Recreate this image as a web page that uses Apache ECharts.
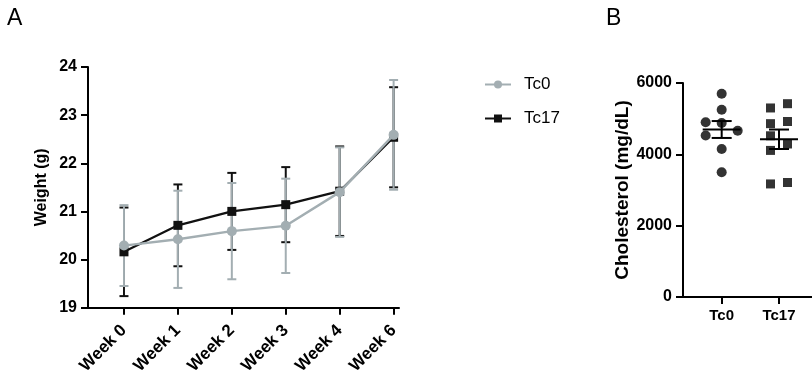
<!DOCTYPE html>
<html>
<head>
<meta charset="utf-8">
<script src="https://cdn.jsdelivr.net/npm/echarts@6/dist/echarts.min.js"></script>
<style>
  html, body { margin: 0; padding: 0; background: #fff; }
  #chart { width: 812px; height: 377px; }
</style>
</head>
<body>
<div id="chart"></div>
<script>
// panel A - body weight per week
var weeks = ["Week 0", "Week 1", "Week 2", "Week 3", "Week 4", "Week 6"];
var tc0Mean = [20.29, 20.42, 20.59, 20.70, 21.40, 22.59];
var tc0Sd = [0.84, 1.01, 1.00, 0.98, 0.93, 1.14];
var tc17Mean = [20.16, 20.71, 21.00, 21.14, 21.42, 22.54];
var tc17Sd = [0.92, 0.85, 0.80, 0.78, 0.93, 1.04];

// panel B - cholesterol, one value per animal
var groups = ["Tc0", "Tc17"];
var cholTc0 = [5700, 5250, 4900, 4880, 4530, 4660, 4150, 3500];
var cholTc17 = [5420, 5300, 4920, 4860, 4520, 4290, 4110, 3210, 3170];
// column slot of each dot (-1 left, 0 centre, 1 right)
var jitTc0 = [0, 0, -1, 0, -1, 1, 0, 0];
var jitTc17 = [1, -1, 1, -1, -1, 1, -1, 1, -1];

var grey = "#a3aeb2";
var font = "Liberation Sans, Arial, sans-serif";

function meanOf(a) {
    var s = 0;
    a.forEach(function (v) { s += v; });
    return s / a.length;
}
function semOf(a) {
    var m = meanOf(a), s = 0;
    a.forEach(function (v) { s += (v - m) * (v - m); });
    return Math.sqrt(s / (a.length - 1)) / Math.sqrt(a.length);
}

function errorBar(color, capHalf) {
    return function (params, api) {
        var top = api.coord([api.value(0), api.value(2)]);
        var bot = api.coord([api.value(0), api.value(1)]);
        var st = {stroke: color, lineWidth: 2};
        return {
            type: "group",
            children: [
                {type: "line", shape: {x1: top[0], y1: top[1], x2: bot[0], y2: bot[1]}, style: st},
                {type: "line", shape: {x1: top[0] - capHalf, y1: top[1], x2: top[0] + capHalf, y2: top[1]}, style: st},
                {type: "line", shape: {x1: bot[0] - capHalf, y1: bot[1], x2: bot[0] + capHalf, y2: bot[1]}, style: st}
            ]
        };
    };
}

function meanSem(params, api) {
    var x = api.value(0), m = api.value(1), e = api.value(2);
    var c = api.coord([x, m]);
    var t = api.coord([x, m + e]);
    var b = api.coord([x, m - e]);
    var st = {stroke: "#000", lineWidth: 2};
    return {
        type: "group",
        children: [
            {type: "line", shape: {x1: c[0] - 19, y1: c[1], x2: c[0] + 19, y2: c[1]}, style: st},
            {type: "line", shape: {x1: t[0], y1: t[1], x2: b[0], y2: b[1]}, style: st},
            {type: "line", shape: {x1: t[0] - 10, y1: t[1], x2: t[0] + 10, y2: t[1]}, style: st},
            {type: "line", shape: {x1: b[0] - 10, y1: b[1], x2: b[0] + 10, y2: b[1]}, style: st}
        ]
    };
}

var weekIdx = weeks.map(function (w, i) { return i; });
var groupIdx = groups.map(function (g, i) { return i; });

function axisCommon() {
    return {
        axisLine: {onZero: false, lineStyle: {color: "#000", width: 2}},
        axisTick: {length: 7, lineStyle: {color: "#000", width: 2}},
        splitLine: {show: false},
        axisLabel: {color: "#000", fontWeight: "bold", fontFamily: font, fontSize: 16, margin: 11}
    };
}

var chart = echarts.init(document.getElementById("chart"));

var xA = axisCommon();
xA.gridIndex = 0;
xA.type = "value";
xA.min = -0.667;
xA.max = 5.1;
xA.axisTick.customValues = weekIdx;
xA.axisLabel.customValues = weekIdx;
xA.axisLabel.rotate = 45;
xA.axisLabel.fontSize = 17;
xA.axisLabel.margin = 20;
xA.axisLabel.formatter = function (v) { return weeks[v]; };

var yA = axisCommon();
yA.gridIndex = 0;
yA.type = "value";
yA.min = 19;
yA.max = 24;
yA.interval = 1;
yA.name = "Weight (g)";
yA.nameLocation = "middle";
yA.nameGap = 38;
yA.nameTextStyle = {color: "#000", fontWeight: "bold", fontFamily: font, fontSize: 16};

var xB = axisCommon();
xB.gridIndex = 1;
xB.type = "value";
xB.min = -0.675;
xB.max = 1.576;
xB.axisTick.customValues = groupIdx;
xB.axisLabel.customValues = groupIdx;
xB.axisLabel.fontSize = 15;
xB.axisLabel.margin = 11;
xB.axisLabel.formatter = function (v) { return groups[v]; };

var yB = axisCommon();
yB.gridIndex = 1;
yB.type = "value";
yB.min = 0;
yB.max = 6000;
yB.interval = 2000;
yB.axisLabel.formatter = function (v) { return String(v); };
yB.name = "Cholesterol (mg/dL)";
yB.nameLocation = "middle";
yB.nameGap = 46;
yB.nameTextStyle = {color: "#000", fontWeight: "bold", fontFamily: font, fontSize: 19};

function bars(mean, sd) {
    return mean.map(function (m, i) { return [i, m - sd[i], m + sd[i]]; });
}
function pts(mean) {
    return mean.map(function (m, i) { return [i, m]; });
}
function dots(vals, jit, grp, step) {
    return vals.map(function (v, i) {
        return {value: [grp, v], symbolOffset: [jit[i] * step, 0]};
    });
}

var option = {
    animation: false,
    textStyle: {fontFamily: font},
    grid: [
        {left: 88, top: 67, width: 311, height: 241},
        {left: 683, top: 83, width: 129, height: 214}
    ],
    xAxis: [xA, xB],
    yAxis: [yA, yB],
    legend: {
        data: ["Tc0", "Tc17"],
        orient: "vertical",
        left: 479,
        top: 71,
        itemWidth: 26,
        itemHeight: 10,
        itemGap: 17,
        textStyle: {color: "#000", fontSize: 17, fontFamily: font, padding: [0, 0, 0, 8]}
    },
    graphic: [
        {type: "text", left: 7, top: 7, style: {text: "A", fontSize: 23, fontFamily: font, fill: "#000"}},
        {type: "text", left: 606, top: 7, style: {text: "B", fontSize: 23, fontFamily: font, fill: "#000"}}
    ],
    series: [
        {
            name: "Tc17 SD", type: "custom", xAxisIndex: 0, yAxisIndex: 0,
            renderItem: errorBar("#111", 4.5), encode: {x: 0, y: [1, 2]},
            data: bars(tc17Mean, tc17Sd), z: 1
        },
        {
            name: "Tc0 SD", type: "custom", xAxisIndex: 0, yAxisIndex: 0,
            renderItem: errorBar(grey, 4.5), encode: {x: 0, y: [1, 2]},
            data: bars(tc0Mean, tc0Sd), z: 2
        },
        {
            name: "Tc17", type: "line", xAxisIndex: 0, yAxisIndex: 0,
            data: pts(tc17Mean), symbol: "rect", symbolSize: 9,
            itemStyle: {color: "#111"}, lineStyle: {color: "#111", width: 2.2}, z: 3
        },
        {
            name: "Tc0", type: "line", xAxisIndex: 0, yAxisIndex: 0,
            data: pts(tc0Mean), symbol: "circle", symbolSize: 10,
            itemStyle: {color: grey}, lineStyle: {color: grey, width: 2.4}, z: 4
        },
        {
            name: "chol Tc0", type: "scatter", xAxisIndex: 1, yAxisIndex: 1,
            data: dots(cholTc0, jitTc0, 0, 16), symbol: "circle", symbolSize: 10,
            itemStyle: {color: "#000"}
        },
        {
            name: "chol Tc17", type: "scatter", xAxisIndex: 1, yAxisIndex: 1,
            data: dots(cholTc17, jitTc17, 1, 8.5), symbol: "rect", symbolSize: 9,
            itemStyle: {color: "#000"}
        },
        {
            name: "chol mean", type: "custom", xAxisIndex: 1, yAxisIndex: 1,
            renderItem: meanSem, encode: {x: 0, y: 1},
            data: [
                [0, meanOf(cholTc0), semOf(cholTc0)],
                [1, meanOf(cholTc17), semOf(cholTc17)]
            ],
            z: 5
        }
    ]
};
chart.setOption(option);
</script>
</body>
</html>
